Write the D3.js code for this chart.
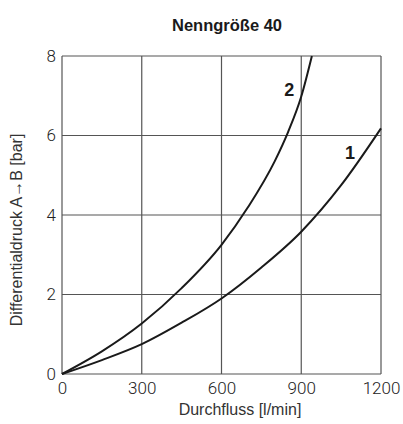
<!DOCTYPE html>
<html>
<head>
<meta charset="utf-8">
<script src="https://cdn.jsdelivr.net/npm/d3@7"></script>
<style>
  body { margin: 0; background: #fff; }
  svg { display: block; }
</style>
</head>
<body>
<svg id="chart"></svg>
<script>
// values
const xTicks = [0, 300, 600, 900, 1200];
const yTicks = [0, 2, 4, 6, 8];

const flow1 = [0, 150, 300, 450, 600, 750, 900, 1050, 1200];
const dp1   = [0, 0.35, 0.75, 1.29, 1.9, 2.68, 3.58, 4.75, 6.18];

const flow2 = [0, 150, 300, 450, 600, 700, 800, 850, 900, 940];
const dp2   = [0, 0.57, 1.27, 2.16, 3.25, 4.2, 5.35, 6.08, 6.98, 8];

const width = 403, height = 424;
const margin = {top: 56, right: 22, bottom: 50, left: 62};

const svg = d3.select("#chart")
    .attr("width", width)
    .attr("height", height);

const x = d3.scaleLinear().domain([0, 1200]).range([margin.left, width - margin.right]);
const y = d3.scaleLinear().domain([0, 8]).range([height - margin.bottom, margin.top]);

// grid
const grid = svg.append("g").attr("stroke", "#555").attr("stroke-width", 1.2);
grid.selectAll("line.v")
    .data(xTicks)
    .join("line")
    .attr("class", "v")
    .attr("x1", d => x(d)).attr("x2", d => x(d))
    .attr("y1", y(0)).attr("y2", y(8));
grid.selectAll("line.h")
    .data(yTicks)
    .join("line")
    .attr("class", "h")
    .attr("x1", x(0)).attr("x2", x(1200))
    .attr("y1", d => y(d)).attr("y2", d => y(d));

// axes (labels only)
const tickFont = "Roboto, 'DejaVu Sans', sans-serif";
const xAxis = svg.append("g")
    .attr("transform", `translate(0,${y(0)})`)
    .call(d3.axisBottom(x).tickValues(xTicks).tickSize(0).tickPadding(8).tickFormat(d3.format("d")));
const yAxis = svg.append("g")
    .attr("transform", `translate(${x(0)},0)`)
    .call(d3.axisLeft(y).tickValues(yTicks).tickSize(0).tickPadding(6));
[xAxis, yAxis].forEach(a => {
    a.select(".domain").remove();
    a.selectAll("text")
        .attr("fill", "#222")
        .style("font-family", tickFont)
        .style("font-weight", 300)
        .style("font-size", "17px");
});

// curves
const line = d3.line().x(d => x(d[0])).y(d => y(d[1])).curve(d3.curveMonotoneX);
const series = [
    {label: "1", pts: d3.zip(flow1, dp1), lx: 1083, ly: 5.4},
    {label: "2", pts: d3.zip(flow2, dp2), lx: 855, ly: 7.0}
];
svg.selectAll("path.curve")
    .data(series)
    .join("path")
    .attr("class", "curve")
    .attr("fill", "none")
    .attr("stroke", "#1a1a1a")
    .attr("stroke-width", 2)
    .attr("d", d => line(d.pts));

svg.selectAll("text.lbl")
    .data(series)
    .join("text")
    .attr("class", "lbl")
    .attr("x", d => x(d.lx))
    .attr("y", d => y(d.ly))
    .attr("text-anchor", "middle")
    .attr("fill", "#1a1a1a")
    .style("font-family", "'Liberation Sans', Arial, sans-serif")
    .style("font-weight", "bold")
    .style("font-size", "18px")
    .text(d => d.label);

// titles
svg.append("text")
    .attr("x", 227)
    .attr("y", 31)
    .attr("text-anchor", "middle")
    .attr("fill", "#1a1a1a")
    .style("font-family", "'Liberation Sans', Arial, sans-serif")
    .style("font-weight", "bold")
    .style("font-size", "16.5px")
    .text("Nenngröße 40");

svg.append("text")
    .attr("x", 240)
    .attr("y", 415)
    .attr("text-anchor", "middle")
    .attr("fill", "#333")
    .style("font-family", "'Liberation Sans', Arial, sans-serif")
    .style("font-size", "16px")
    .text("Durchfluss [l/min]");

svg.append("text")
    .attr("transform", `translate(22,230) rotate(-90)`)
    .attr("text-anchor", "middle")
    .attr("fill", "#333")
    .style("font-family", "'Liberation Sans', Arial, sans-serif")
    .style("font-size", "16px")
    .text("Differentialdruck A→B [bar]");
</script>
</body>
</html>
